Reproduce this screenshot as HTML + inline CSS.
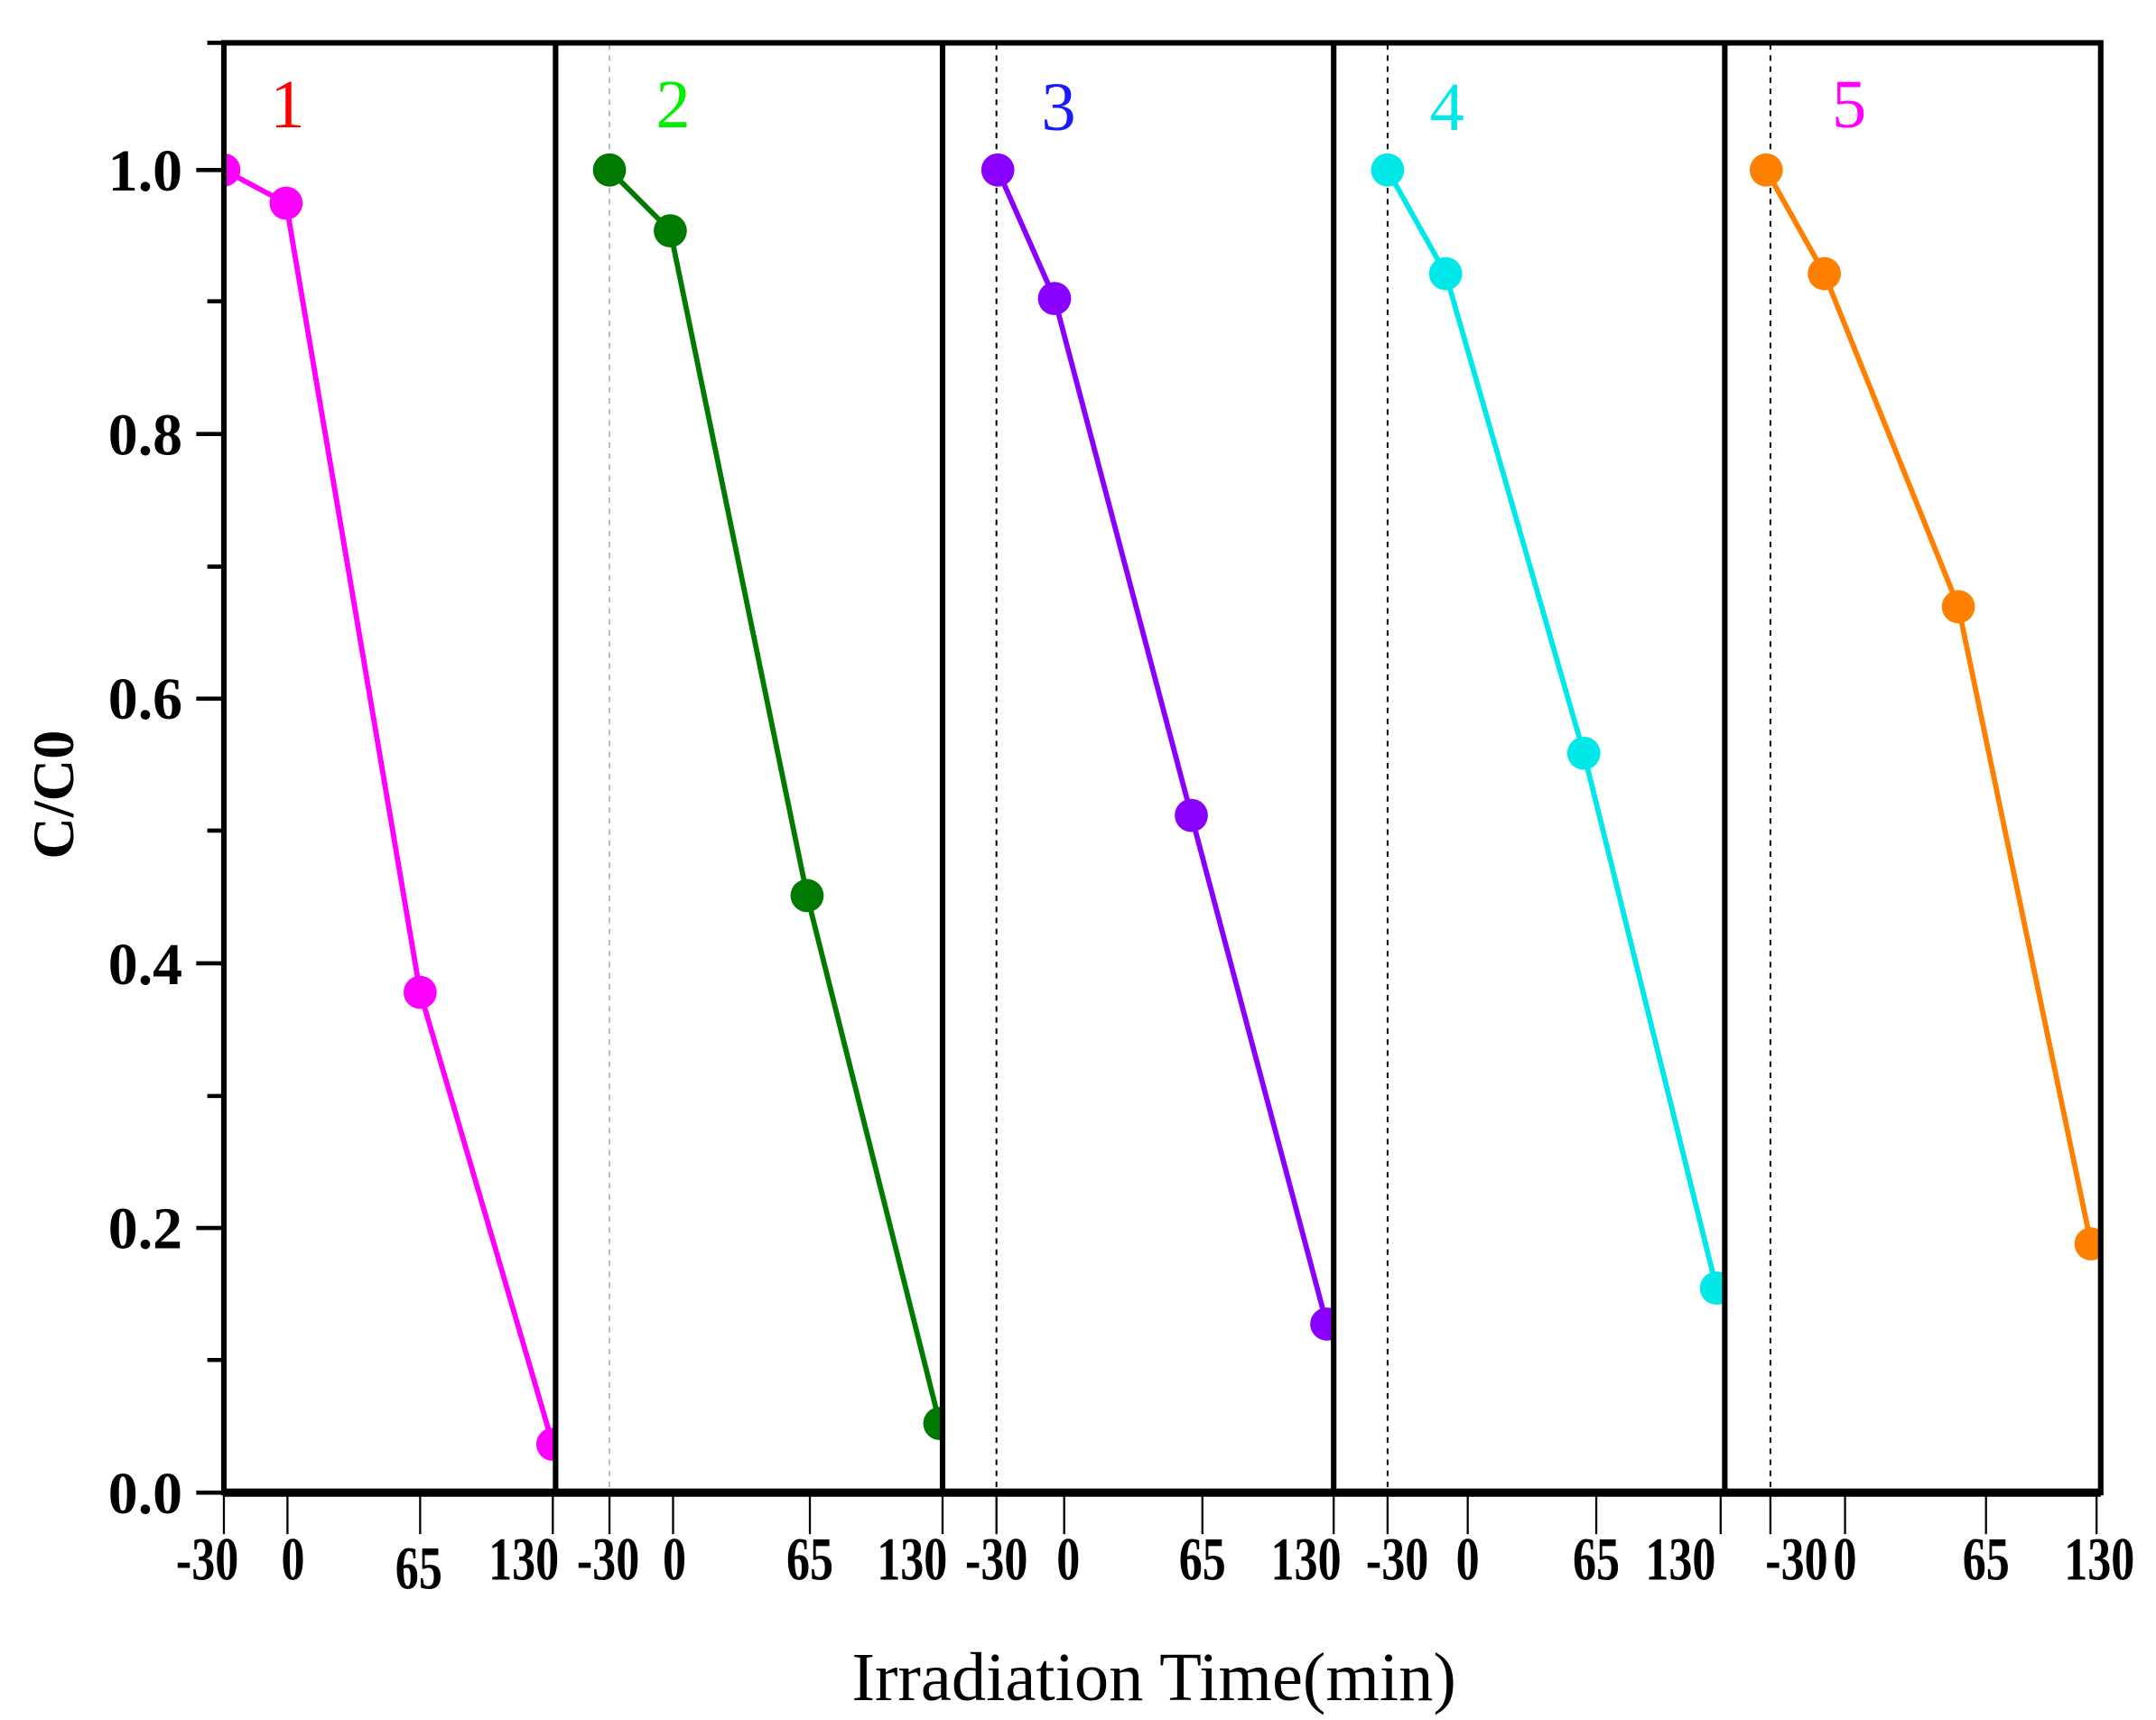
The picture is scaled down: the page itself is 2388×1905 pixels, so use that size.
<!DOCTYPE html>
<html><head><meta charset="utf-8"><style>html,body{margin:0;padding:0;background:#fff}svg{display:block}</style></head>
<body>
<svg width="2388" height="1905" viewBox="0 0 1560 1244.5" preserveAspectRatio="none" xmlns="http://www.w3.org/2000/svg">
<defs>
<clipPath id="c1"><rect x="162" y="30" width="240" height="1050"/></clipPath>
<clipPath id="c2"><rect x="402" y="30" width="280" height="1050"/></clipPath>
<clipPath id="c3"><rect x="682" y="30" width="283" height="1050"/></clipPath>
<clipPath id="c4"><rect x="965" y="30" width="283" height="1050"/></clipPath>
<clipPath id="c5"><rect x="1248" y="30" width="272" height="1050"/></clipPath>
</defs>
<rect width="1560" height="1244.5" fill="#fff"/>
<g stroke-width="1.3" stroke-dasharray="4,4">
<line x1="441" y1="32" x2="441" y2="1078" stroke="#bbb"/>
<line x1="721" y1="32" x2="721" y2="1078" stroke="#000"/>
<line x1="1004" y1="32" x2="1004" y2="1078" stroke="#000"/>
<line x1="1281" y1="32" x2="1281" y2="1078" stroke="#000"/>
</g>
<g stroke-width="3.8" fill="none">
<g clip-path="url(#c1)"><polyline points="162,123 207,147 304,718 400,1045" stroke="#ff00ff"/><g fill="#ff00ff" stroke="none"><circle cx="162" cy="123" r="12"/><circle cx="207" cy="147" r="12"/><circle cx="304" cy="718" r="12"/><circle cx="400" cy="1045" r="12"/></g></g>
<g clip-path="url(#c2)"><polyline points="441,123 485,167 584,648 680,1030" stroke="#007a00"/><g fill="#007a00" stroke="none"><circle cx="441" cy="123" r="12"/><circle cx="485" cy="167" r="12"/><circle cx="584" cy="648" r="12"/><circle cx="680" cy="1030" r="12"/></g></g>
<g clip-path="url(#c3)"><polyline points="722,123 763,216 862,590 960,958" stroke="#8a00ff"/><g fill="#8a00ff" stroke="none"><circle cx="722" cy="123" r="12"/><circle cx="763" cy="216" r="12"/><circle cx="862" cy="590" r="12"/><circle cx="960" cy="958" r="12"/></g></g>
<g clip-path="url(#c4)"><polyline points="1004,123 1046,198 1146,545 1242,932" stroke="#00e8e8"/><g fill="#00e8e8" stroke="none"><circle cx="1004" cy="123" r="12"/><circle cx="1046" cy="198" r="12"/><circle cx="1146" cy="545" r="12"/><circle cx="1242" cy="932" r="12"/></g></g>
<g clip-path="url(#c5)"><polyline points="1278,123 1320,198 1417,439 1513,900" stroke="#ff8000"/><g fill="#ff8000" stroke="none"><circle cx="1278" cy="123" r="12"/><circle cx="1320" cy="198" r="12"/><circle cx="1417" cy="439" r="12"/><circle cx="1513" cy="900" r="12"/></g></g>
</g>
<g stroke="#000" fill="none">
<rect x="162" y="31" width="1358" height="1049" stroke-width="4"/>
<line x1="402" y1="31" x2="402" y2="1080" stroke-width="4"/>
<line x1="682" y1="31" x2="682" y2="1080" stroke-width="4"/>
<line x1="965" y1="31" x2="965" y2="1080" stroke-width="4"/>
<line x1="1248" y1="31" x2="1248" y2="1080" stroke-width="4"/>
<line x1="162" y1="1080" x2="1520" y2="1080" stroke-width="6"/>
</g>
<g stroke="#000" stroke-width="3">
<line x1="142" y1="1080" x2="162" y2="1080"/><line x1="142" y1="888.5" x2="162" y2="888.5"/><line x1="142" y1="697" x2="162" y2="697"/><line x1="142" y1="505.5" x2="162" y2="505.5"/><line x1="142" y1="314" x2="162" y2="314"/><line x1="142" y1="123" x2="162" y2="123"/>
<line x1="150" y1="984" x2="162" y2="984"/><line x1="150" y1="793" x2="162" y2="793"/><line x1="150" y1="601" x2="162" y2="601"/><line x1="150" y1="410" x2="162" y2="410"/><line x1="150" y1="218" x2="162" y2="218"/><line x1="150" y1="31" x2="162" y2="31"/>
</g>
<g stroke="#000" stroke-width="1.5">
<line x1="162" y1="1080" x2="162" y2="1110"/><line x1="208" y1="1080" x2="208" y2="1110"/><line x1="304" y1="1080" x2="304" y2="1110"/><line x1="400" y1="1080" x2="400" y2="1110"/>
<line x1="441" y1="1080" x2="441" y2="1110"/><line x1="487" y1="1080" x2="487" y2="1110"/><line x1="586" y1="1080" x2="586" y2="1110"/><line x1="682" y1="1080" x2="682" y2="1110"/>
<line x1="721" y1="1080" x2="721" y2="1110"/><line x1="770" y1="1080" x2="770" y2="1110"/><line x1="870" y1="1080" x2="870" y2="1110"/><line x1="965" y1="1080" x2="965" y2="1110"/>
<line x1="1004" y1="1080" x2="1004" y2="1110"/><line x1="1062" y1="1080" x2="1062" y2="1110"/><line x1="1155" y1="1080" x2="1155" y2="1110"/><line x1="1245" y1="1080" x2="1245" y2="1110"/>
<line x1="1281" y1="1080" x2="1281" y2="1110"/><line x1="1335" y1="1080" x2="1335" y2="1110"/><line x1="1437" y1="1080" x2="1437" y2="1110"/><line x1="1517" y1="1080" x2="1517" y2="1110"/>
</g>
<g font-family="Liberation Serif, serif" font-weight="bold" font-size="43" text-anchor="end" fill="#000">
<text x="132" y="1095">0.0</text><text x="132" y="903">0.2</text><text x="132" y="712">0.4</text><text x="132" y="520">0.6</text><text x="132" y="329">0.8</text><text x="132" y="138">1.0</text>
</g>
<text transform="translate(53,575) rotate(-90)" font-family="Liberation Serif, serif" font-weight="bold" font-size="42" text-anchor="middle">C/C0</text>
<g font-family="Liberation Serif, serif" font-weight="bold" font-size="34" text-anchor="middle" fill="#000">
<g transform="translate(0,1143) scale(1,1.3)"><text x="150">-30</text><text x="212">0</text><text x="303" y="5">65</text><text x="379">130</text>
<text x="440">-30</text><text x="488">0</text><text x="586">65</text><text x="660">130</text>
<text x="721">-30</text><text x="773">0</text><text x="870">65</text><text x="945">130</text>
<text x="1011">-30</text><text x="1062">0</text><text x="1155">65</text><text x="1216">130</text>
<text x="1300">-30</text><text x="1335">0</text><text x="1437">65</text><text x="1519">130</text></g>
</g>
<text x="835" y="1230" font-family="Liberation Serif, serif" font-size="50" text-anchor="middle">Irradiation Time(min)</text>
<g font-family="Liberation Serif, serif" font-size="50" text-anchor="middle">
<text x="208" y="92" fill="#ff0000">1</text><text x="487" y="92" fill="#00ee00">2</text><text x="766" y="94" fill="#1a1aff">3</text><text x="1047" y="94" fill="#00e8e8">4</text><text x="1338" y="92" fill="#ff00ff">5</text>
</g>
</svg>
</body></html>
